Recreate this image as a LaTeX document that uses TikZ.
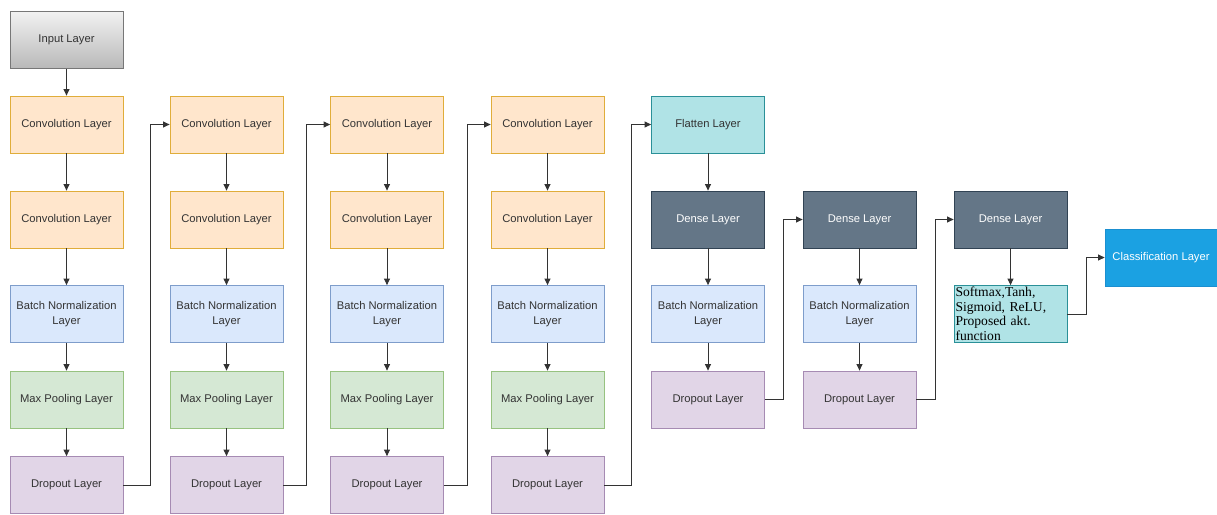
\documentclass[tikz,border=0pt]{standalone}
\usepackage{fontspec}
\setmainfont{Liberation Sans}
\newfontfamily\seriffam{Liberation Serif}
\usetikzlibrary{arrows.meta}
\definecolor{txt}{HTML}{333333}
\definecolor{orF}{HTML}{FFE6CC}\definecolor{orS}{HTML}{E0AD3A}
\definecolor{blF}{HTML}{DAE8FC}\definecolor{blS}{HTML}{7E9DCB}
\definecolor{grF}{HTML}{D5E8D4}\definecolor{grS}{HTML}{97C280}
\definecolor{puF}{HTML}{E1D5E7}\definecolor{puS}{HTML}{A68BB3}
\definecolor{cyF}{HTML}{B0E3E6}\definecolor{cyS}{HTML}{2A9098}
\definecolor{dnF}{HTML}{647687}\definecolor{dnS}{HTML}{314354}
\definecolor{clF}{HTML}{1BA1E2}\definecolor{clS}{HTML}{1B8FD0}
\definecolor{inT}{HTML}{F2F2F2}\definecolor{inB}{HTML}{B8B8B8}\definecolor{inS}{HTML}{777777}
\definecolor{lineC}{HTML}{333333}
\begin{document}
\begin{tikzpicture}[x=1pt,y=-1pt,
  box/.style={draw, line width=0.8pt, minimum width=113pt, minimum height=57pt, inner sep=2pt,
    align=center, font=\fontsize{11.2}{14.5}\selectfont, text=txt},
  conv/.style={box, fill=orF, draw=orS},
  bn/.style={box, fill=blF, draw=blS},
  mp/.style={box, fill=grF, draw=grS},
  drop/.style={box, fill=puF, draw=puS},
  flat/.style={box, fill=cyF, draw=cyS},
  dense/.style={box, fill=dnF, draw=dnS, text=white},
  cls/.style={box, fill=clF, draw=clS, text=white, minimum width=112pt},
  inp/.style={box, top color=inT, bottom color=inB, draw=inS},
  act/.style={box, fill=cyF, draw=cyS, align=left, text=black, inner sep=1pt, text width=110pt,
    font=\seriffam\fontsize{13.6}{14.5}\selectfont},
  conn/.style={draw=lineC, line width=0.9pt, -{Triangle[length=6.5pt,width=6pt]}}
]
\useasboundingbox (0,0) rectangle (1217,514);
% column 1
\node[inp] (in) at (66.5,40) {Input Layer};
\node[conv] (c1a) at (66.5,124.5) {Convolution Layer};
\node[conv] (c1b) at (66.5,219.5) {Convolution Layer};
\node[bn] (c1n) at (66.5,314) {Batch Normalization\\Layer};
\node[mp] (c1p) at (66.5,399.5) {Max Pooling Layer};
\node[drop] (c1d) at (66.5,485) {Dropout Layer};
% column 2
\node[conv] (c2a) at (226.5,124.5) {Convolution Layer};
\node[conv] (c2b) at (226.5,219.5) {Convolution Layer};
\node[bn] (c2n) at (226.5,314) {Batch Normalization\\Layer};
\node[mp] (c2p) at (226.5,399.5) {Max Pooling Layer};
\node[drop] (c2d) at (226.5,485) {Dropout Layer};
% column 3
\node[conv] (c3a) at (387,124.5) {Convolution Layer};
\node[conv] (c3b) at (387,219.5) {Convolution Layer};
\node[bn] (c3n) at (387,314) {Batch Normalization\\Layer};
\node[mp] (c3p) at (387,399.5) {Max Pooling Layer};
\node[drop] (c3d) at (387,485) {Dropout Layer};
% column 4
\node[conv] (c4a) at (547.5,124.5) {Convolution Layer};
\node[conv] (c4b) at (547.5,219.5) {Convolution Layer};
\node[bn] (c4n) at (547.5,314) {Batch Normalization\\Layer};
\node[mp] (c4p) at (547.5,399.5) {Max Pooling Layer};
\node[drop] (c4d) at (547.5,485) {Dropout Layer};
% column 5
\node[flat] (f5) at (708,124.5) {Flatten Layer};
\node[dense] (d5) at (708,219.5) {Dense Layer};
\node[bn] (n5) at (708,314) {Batch Normalization\\Layer};
\node[drop] (o5) at (708,399.5) {Dropout Layer};
% column 6
\node[dense] (d6) at (859.5,219.5) {Dense Layer};
\node[bn] (n6) at (859.5,314) {Batch Normalization\\Layer};
\node[drop] (o6) at (859.5,399.5) {Dropout Layer};
% column 7
\node[dense] (d7) at (1010.5,219.5) {Dense Layer};
\node[act] (a7) at (1010.5,314) {Softmax,Tanh,\\Sigmoid, ReLU,\\Proposed akt.\\function};
\node[cls] (cl) at (1161,257.5) {Classification Layer};
% vertical arrows
\foreach \a/\b in {in/c1a,c1a/c1b,c1b/c1n,c1n/c1p,c1p/c1d,
  c2a/c2b,c2b/c2n,c2n/c2p,c2p/c2d,
  c3a/c3b,c3b/c3n,c3n/c3p,c3p/c3d,
  c4a/c4b,c4b/c4n,c4n/c4p,c4p/c4d,
  f5/d5,d5/n5,n5/o5,d6/n6,n6/o6,d7/a7}
  \draw[conn] (\a) -- (\b);
% column links
\draw[conn] (c1d.east) -- ++(27,0) |- (c2a.west);
\draw[conn] (c2d.east) -- ++(23.5,0) |- (c3a.west);
\draw[conn] (c3d.east) -- ++(24,0) |- (c4a.west);
\draw[conn] (c4d.east) -- ++(27,0) |- (f5.west);
\draw[conn] (o5.east) -- ++(19,0) |- (d6.west);
\draw[conn] (o6.east) -- ++(19,0) |- (d7.west);
\draw[conn] (a7.east) -- ++(19,0) |- (cl.west);
\end{tikzpicture}
\end{document}
